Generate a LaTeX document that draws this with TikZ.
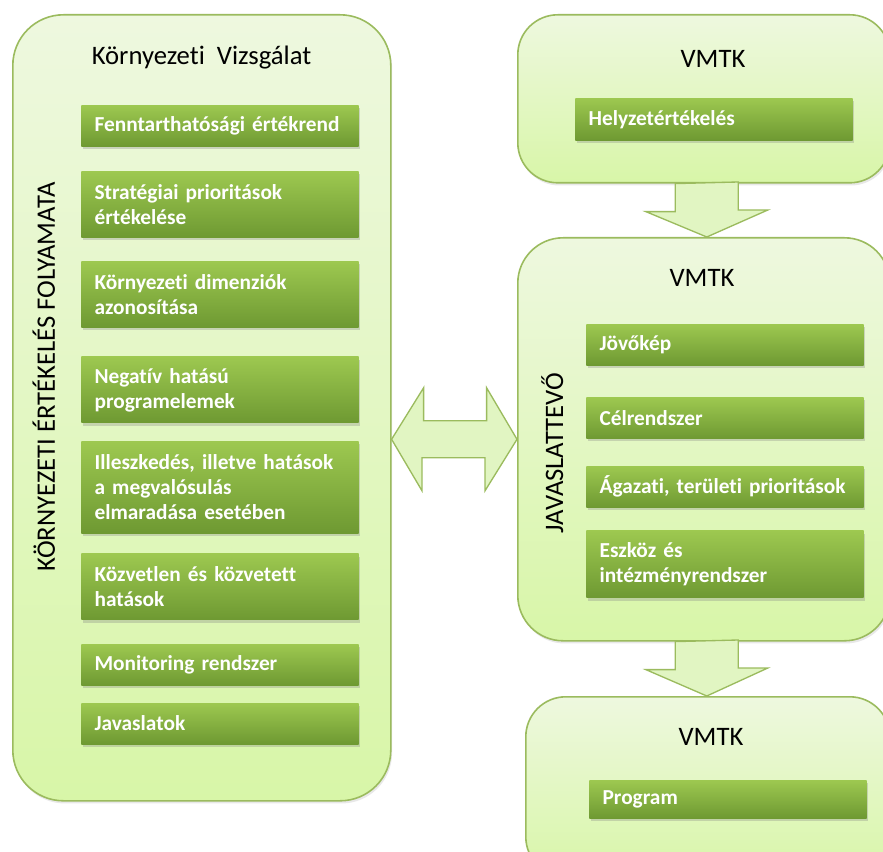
\documentclass[tikz,border=0pt]{standalone}
\usepackage{fontspec}
\setmainfont[Ligatures=NoCommon]{Carlito}
\usetikzlibrary{shapes,arrows,shadows,positioning,calc}
\definecolor{paneltop}{HTML}{EEF8DF}
\definecolor{panelbottom}{HTML}{D8F6A8}
\definecolor{panelline}{HTML}{9BBB5E}
\definecolor{itemtop}{HTML}{9DC850}
\definecolor{itembottom}{HTML}{6E9932}
\definecolor{arrowfill}{HTML}{E1F5C2}
\tikzstyle{panel}=[draw=panelline, line width=1.2pt, top color=paneltop, bottom color=panelbottom, anchor=north west, inner sep=0pt, drop shadow={opacity=0.18, shadow xshift=1pt, shadow yshift=-2pt}]
\tikzstyle{item}=[top color=itemtop, bottom color=itembottom, text=white, anchor=north west, align=left, text width=188pt, inner xsep=10pt, inner ysep=0pt, minimum height=30.75pt, font=\fontsize{16}{18.75}\selectfont\bfseries, drop shadow={opacity=0.3, shadow xshift=1pt, shadow yshift=-2pt}]
\tikzstyle{title}=[anchor=base, font=\fontsize{20}{24}\selectfont]
\tikzstyle{bigarrow}=[draw=panelline, line width=1pt, fill=arrowfill, line join=miter]

\begin{document}
\begin{tikzpicture}[x=0.75pt, y=-0.75pt]
\useasboundingbox (0,0) rectangle (883,852);

\node (kv) [panel, rounded corners=38pt, minimum width=283.5pt, minimum height=589.5pt] at (12,14) {};
\node (vmtk1) [panel, rounded corners=30pt, minimum width=279pt, minimum height=126pt] at (517,14) {};
\node (vmtk2) [panel, rounded corners=34pt, minimum width=279pt, minimum height=302.25pt] at (517,237) {};
\node (vmtk3) [panel, rounded corners=30pt, minimum width=273pt, minimum height=135pt] at (525,696) {};

\node (kvtitle) [title] at (201.5,65) {Környezeti\hspace{0.45em}Vizsgálat};
\node (kvside) [title, rotate=90] at (55,377) {KÖRNYEZETI ÉRTÉKELÉS FOLYAMATA};
\node (title1) [title] at (713,68) {VMTK};
\node (title2) [title] at (702,287) {VMTK};
\node (title3) [title] at (711,745) {VMTK};
\node (jvside) [title, rotate=90] at (563,453) {JAVASLATTEVŐ};

\node (ertekrend) [item] at (81,105) {Fenntarthatósági értékrend};
\node (strat) [item, minimum height=49.5pt, below=18.75pt of ertekrend.south west, anchor=north west] {Stratégiai prioritások\\értékelése};
\node (dimenzio) [item, minimum height=49.5pt, below=17.25pt of strat.south west, anchor=north west] {Környezeti dimenziók\\azonosítása};
\node (negativ) [item, minimum height=49.5pt, below=21.75pt of dimenzio.south west, anchor=north west] {Negatív hatású\\programelemek};
\node (illesz) [item, minimum height=69pt, below=13.5pt of negativ.south west, anchor=north west] {Illeszkedés, illetve hatások\\a megvalósulás\\elmaradása esetében};
\node (hatasok) [item, minimum height=49.5pt, below=15pt of illesz.south west, anchor=north west] {Közvetlen és közvetett\\hatások};
\node (monitor) [item, below=18pt of hatasok.south west, anchor=north west] {Monitoring rendszer};
\node (javaslat) [item, below=12.75pt of monitor.south west, anchor=north west] {Javaslatok};

\node (helyzet) [item, minimum height=31.5pt] at (575,98) {Helyzetértékelés};

\node (jovokep) [item] at (586,324) {Jövőkép};
\node (cel) [item, below=24pt of jovokep.south west, anchor=north west] {Célrendszer};
\node (agazat) [item, below=20.25pt of cel.south west, anchor=north west] {Ágazati, területi prioritások};
\node (eszkoz) [item, minimum height=50.25pt, below=17.25pt of agazat.south west, anchor=north west] {Eszköz és\\intézményrendszer};

\node (program) [item, minimum height=28.5pt] at (589,780) {Program};

\draw [bigarrow] ($(vmtk1.south)+(-28.5,0)$) -- ++(0,28) -- ++(-29.5,0) -- ($(vmtk2.north)+(3,0)$) -- ++(61,-27) -- ++(-29.5,0) -- ++(0,-28) -- cycle;
\draw [bigarrow] ($(vmtk2.south)+(-28.5,0)$) -- ++(0,28) -- ++(-29.5,0) -- ($(vmtk3.north)+(-1,0)$) -- ++(61,-28) -- ++(-29.5,0) -- ++(0,-28) -- cycle;
\draw [bigarrow] (kv.east |- vmtk2.west) -- ++(32,-51.5) -- ++(0,33) -- ++(63,0) -- ++(0,-33) -- (vmtk2.west) -- ++(-32,51.5) -- ++(0,-33) -- ++(-63,0) -- ++(0,33) -- cycle;

\end{tikzpicture}
\end{document}
